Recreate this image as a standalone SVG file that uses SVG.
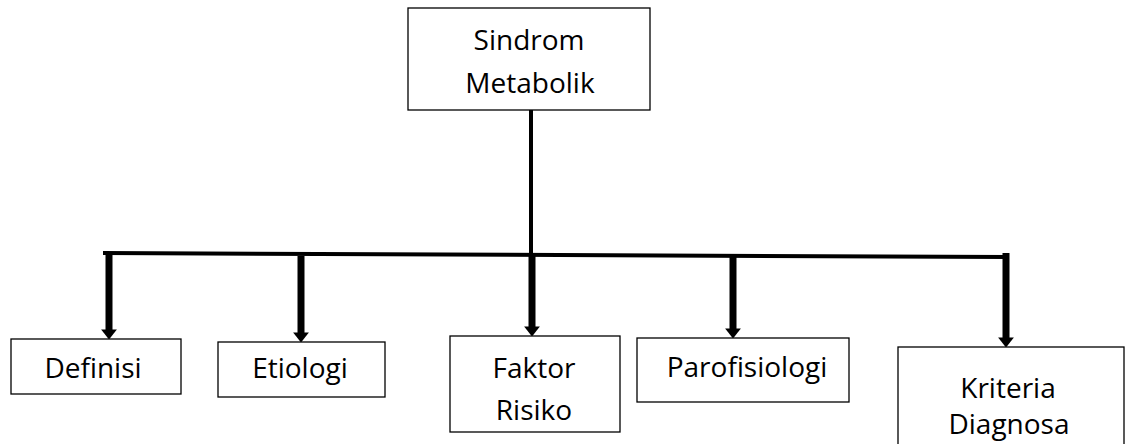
<svg xmlns="http://www.w3.org/2000/svg" width="1131" height="444" viewBox="0 0 1131 444">
<style>
.box{fill:#fff;stroke:#000;stroke-width:1.3}
.t{font-family:"Open Sans","Liberation Sans",sans-serif;font-size:28px;fill:#000;text-anchor:middle}
.shaft{stroke:#000;stroke-width:7;fill:none}
.bar{stroke:#000;stroke-width:4;fill:none}
</style>
<defs>
<marker id="ah" markerUnits="userSpaceOnUse" markerWidth="12" markerHeight="18" refX="0.5" refY="0" orient="auto" overflow="visible" viewBox="0 -8 10 16">
<path d="M0,-7 L9,0 L0,7 z" fill="#000"/>
</marker>
</defs>
<g id="connectors">
<line class="bar" x1="531" y1="110" x2="531" y2="256"/>
<line class="bar" x1="103" y1="253" x2="1008" y2="257"/>
<line class="shaft" x1="109" y1="253" x2="109" y2="330" marker-end="url(#ah)"/>
<line class="shaft" x1="301" y1="256" x2="301" y2="333" marker-end="url(#ah)"/>
<line class="shaft" x1="532" y1="254" x2="532" y2="327" marker-end="url(#ah)"/>
<line class="shaft" x1="733" y1="256" x2="733" y2="329" marker-end="url(#ah)"/>
<line class="shaft" x1="1006" y1="253" x2="1006" y2="338" marker-end="url(#ah)"/>
</g>
<g id="sindrom">
<rect class="box" x="408" y="8" width="242" height="102"/>
<text class="t" x="529" y="50">Sindrom</text>
<text class="t" x="530" y="93">Metabolik</text>
</g>
<g id="definisi">
<rect class="box" x="11" y="339" width="170" height="55"/>
<text class="t" x="93" y="378">Definisi</text>
</g>
<g id="etiologi">
<rect class="box" x="218" y="342" width="167" height="55"/>
<text class="t" x="300" y="378">Etiologi</text>
</g>
<g id="faktor">
<rect class="box" x="450" y="336" width="170" height="96"/>
<text class="t" x="534" y="378">Faktor</text>
<text class="t" x="534" y="420">Risiko</text>
</g>
<g id="parofisiologi">
<rect class="box" x="637" y="338" width="212" height="64"/>
<text class="t" x="747" y="377">Parofisiologi</text>
</g>
<g id="kriteria">
<rect class="box" x="898" y="347" width="226" height="110"/>
<text class="t" x="1008" y="398">Kriteria</text>
<text class="t" x="1009" y="434">Diagnosa</text>
</g>
</svg>
